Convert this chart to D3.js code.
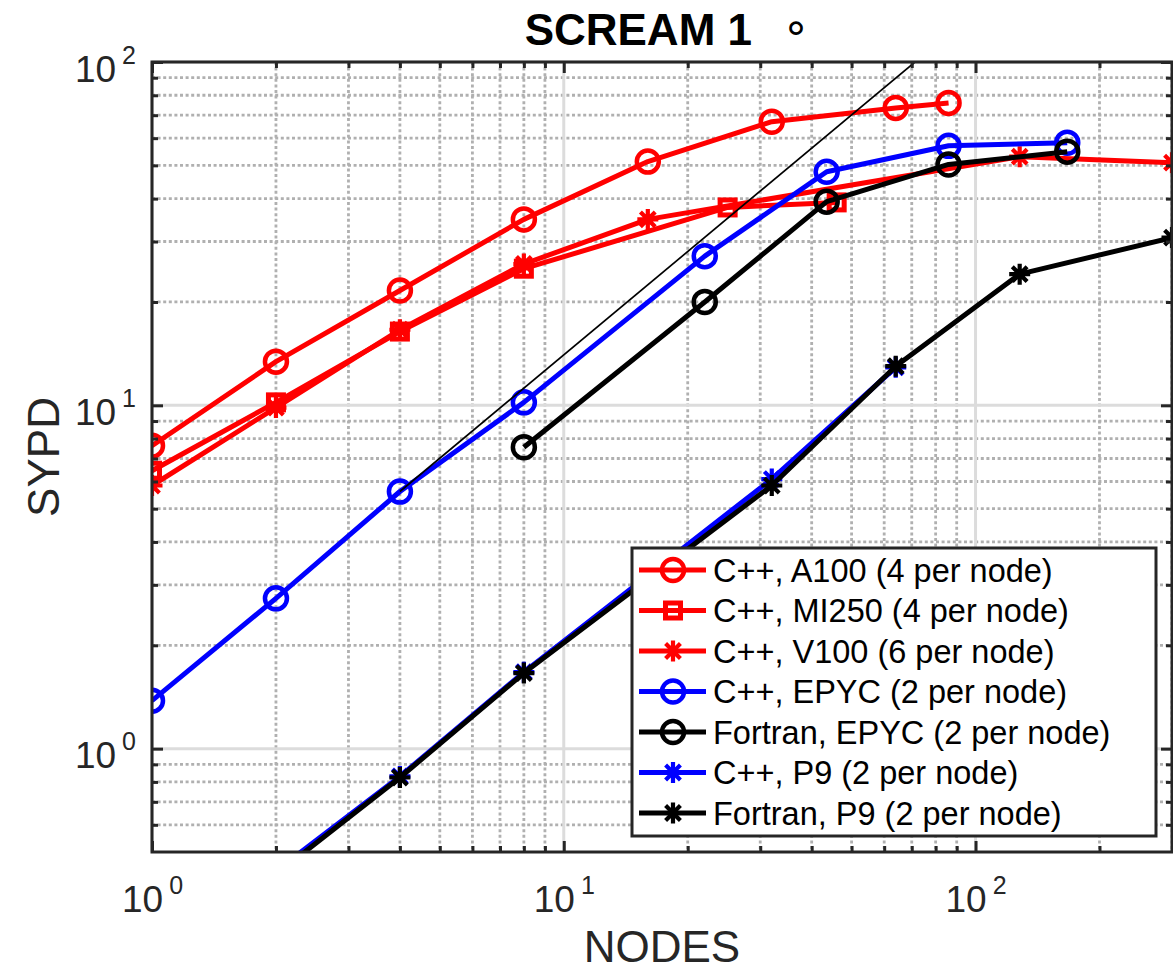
<!DOCTYPE html>
<html>
<head>
<meta charset="utf-8">
<script src="https://cdn.jsdelivr.net/npm/d3@7"></script>
<style>
  body { margin: 0; background: #fff; }
  svg { display: block; }
</style>
</head>
<body>
<svg id="chart" width="1173" height="970"></svg>
<script>
// Strong scaling of SCREAM 1°: simulated years per day vs. number of nodes

// C++, A100 (4 per node)
const nodesA100 = [1, 2, 4, 8, 16, 32, 64, 86];
const sypdA100  = [7.63, 13.4, 21.6, 34.8, 51.3, 67.0, 73.5, 76.0];

// C++, MI250 (4 per node)
const nodesMI250 = [1, 2, 4, 8, 25, 46];
const sypdMI250  = [6.45, 10.2, 16.4, 25.0, 37.7, 39.0];

// C++, V100 (6 per node)
const nodesV100 = [1, 2, 4, 8, 16, 128, 300];
const sypdV100  = [5.84, 9.85, 16.6, 25.8, 34.8, 53.0, 50.9];

// C++, EPYC (2 per node)
const nodesEpycCxx = [1, 2, 4, 8, 22, 43.5, 86, 167];
const sypdEpycCxx  = [1.38, 2.74, 5.61, 10.2, 27.2, 47.9, 57.0, 58.2];

// Fortran, EPYC (2 per node)
const nodesEpycF90 = [8, 22, 43.5, 86, 167];
const sypdEpycF90  = [7.55, 20.0, 39.2, 50.3, 54.8];

// C++, P9 (2 per node)
const nodesP9Cxx = [2, 4, 8, 32, 64];
const sypdP9Cxx  = [0.44, 0.83, 1.67, 6.1, 12.9];

// Fortran, P9 (2 per node)
const nodesP9F90 = [2, 4, 8, 32, 64, 128, 300];
const sypdP9F90  = [0.43, 0.824, 1.66, 5.84, 13.0, 24.1, 30.8];

// perfect-scaling reference from the 4-node EPYC run
const nodesIdeal = [4, 80];
const sypdIdeal  = [5.61, 112.2];

const seriesLabels = [
  "C++, A100 (4 per node)",
  "C++, MI250 (4 per node)",
  "C++, V100 (6 per node)",
  "C++, EPYC (2 per node)",
  "Fortran, EPYC (2 per node)",
  "C++, P9 (2 per node)",
  "Fortran, P9 (2 per node)"
];

// tick positions
const xMajorTicks = [1, 10, 100];
const xMinorTicks = [2, 3, 4, 5, 6, 7, 8, 9, 20, 30, 40, 50, 60, 70, 80, 90, 200, 300];
const yMajorTicks = [1, 10, 100];
const yMinorTicks = [0.6, 0.7, 0.8, 0.9, 2, 3, 4, 5, 6, 7, 8, 9, 20, 30, 40, 50, 60, 70, 80, 90];

// ---- layout ----
const W = 1173, H = 970;
const P = { left: 152, right: 1172, top: 62, bottom: 852 };
const AXIS = "#262626";
const FONT = "'Liberation Sans', Arial, Helvetica, sans-serif";
const LINE_W = 5;

const x = d3.scaleLog().domain([1, 300]).range([P.left, P.right]);
const y = d3.scaleLog().domain([0.5, 100]).range([P.bottom, P.top]);

const svg = d3.select("#chart");
svg.append("rect").attr("width", W).attr("height", H).attr("fill", "#fff");

svg.append("defs").append("clipPath").attr("id", "plotArea")
  .append("rect")
  .attr("x", P.left).attr("y", P.top)
  .attr("width", P.right - P.left).attr("height", P.bottom - P.top);

// ---- grid ----
const grid = svg.append("g");
const dotted = { stroke: "#b0b0b0", width: 2.8, dash: "3 2.6" };
grid.append("g").selectAll("line").data(xMinorTicks).join("line")
  .attr("x1", d => x(d)).attr("x2", d => x(d))
  .attr("y1", P.top).attr("y2", P.bottom)
  .attr("stroke", dotted.stroke).attr("stroke-width", dotted.width)
  .attr("stroke-dasharray", dotted.dash);
grid.append("g").selectAll("line").data(yMinorTicks).join("line")
  .attr("y1", d => y(d)).attr("y2", d => y(d))
  .attr("x1", P.left).attr("x2", P.right)
  .attr("stroke", dotted.stroke).attr("stroke-width", dotted.width)
  .attr("stroke-dasharray", dotted.dash);
grid.append("g").selectAll("line").data(xMajorTicks).join("line")
  .attr("x1", d => x(d)).attr("x2", d => x(d))
  .attr("y1", P.top).attr("y2", P.bottom)
  .attr("stroke", "#dcdcdc").attr("stroke-width", 3);
grid.append("g").selectAll("line").data(yMajorTicks).join("line")
  .attr("y1", d => y(d)).attr("y2", d => y(d))
  .attr("x1", P.left).attr("x2", P.right)
  .attr("stroke", "#dcdcdc").attr("stroke-width", 3);

// ---- markers ----
function drawMarker(g, type, color) {
  if (type === "circle") {
    g.append("circle").attr("r", 11)
      .attr("fill", "none").attr("stroke", color).attr("stroke-width", 4.5);
  } else if (type === "square") {
    g.append("rect").attr("x", -7.5).attr("y", -7.5).attr("width", 15).attr("height", 15)
      .attr("fill", "none").attr("stroke", color).attr("stroke-width", 5);
  } else {
    g.append("path")
      .attr("d", "M0,-10.5V10.5M-10.5,0H10.5M-7.4,-7.4L7.4,7.4M-7.4,7.4L7.4,-7.4")
      .attr("fill", "none").attr("stroke", color).attr("stroke-width", 4.2);
  }
}

const series = [
  { nodes: nodesA100,    sypd: sypdA100,    color: "#ff0000", marker: "circle" },
  { nodes: nodesMI250,   sypd: sypdMI250,   color: "#ff0000", marker: "square" },
  { nodes: nodesV100,    sypd: sypdV100,    color: "#ff0000", marker: "star" },
  { nodes: nodesEpycCxx, sypd: sypdEpycCxx, color: "#0000ff", marker: "circle" },
  { nodes: nodesEpycF90, sypd: sypdEpycF90, color: "#000000", marker: "circle" },
  { nodes: nodesP9Cxx,   sypd: sypdP9Cxx,   color: "#0000ff", marker: "star" },
  { nodes: nodesP9F90,   sypd: sypdP9F90,   color: "#000000", marker: "star" }
].map((s, i) => ({ ...s, label: seriesLabels[i],
  points: s.nodes.map((n, j) => [n, s.sypd[j]]) }));

const line = d3.line().x(d => x(d[0])).y(d => y(d[1]));
const plot = svg.append("g").attr("clip-path", "url(#plotArea)");

series.forEach(s => {
  const g = plot.append("g");
  g.append("path").datum(s.points).attr("d", line)
    .attr("fill", "none").attr("stroke", s.color).attr("stroke-width", LINE_W)
    .attr("stroke-linejoin", "round");
  g.selectAll("g.m").data(s.points).join("g")
    .attr("transform", d => `translate(${x(d[0])},${y(d[1])})`)
    .each(function () { drawMarker(d3.select(this), s.marker, s.color); });
});

// thin ideal-scaling line
plot.append("path")
  .datum(nodesIdeal.map((n, i) => [n, sypdIdeal[i]]))
  .attr("d", line)
  .attr("fill", "none").attr("stroke", "#000").attr("stroke-width", 1.7);

// ---- axes (ticks point inward on all four sides) ----
function tidy(g) {
  g.select(".domain").remove();
  g.selectAll(".tick line").attr("stroke", AXIS).attr("stroke-width", 3);
}
function supLabels(g, xPos, yPos) {
  g.selectAll(".tick text").each(function (d) {
    const t = d3.select(this);
    t.text(null).attr("dy", null).attr("x", xPos).attr("y", yPos)
      .attr("fill", AXIS).attr("font-family", FONT).attr("font-size", 37);
    t.append("tspan").text("10");
    t.append("tspan").attr("dx", 6).attr("dy", -18).attr("font-size", 25)
      .text(Math.round(Math.log10(d)));
  });
}

const gxB = svg.append("g").attr("transform", `translate(0,${P.bottom})`)
  .call(d3.axisBottom(x).tickValues(xMajorTicks).tickSizeInner(-11).tickSizeOuter(0)
    .tickFormat(d => String(d)));
tidy(gxB); supLabels(gxB, 0, 60);
svg.append("g").attr("transform", `translate(0,${P.bottom})`)
  .call(d3.axisBottom(x).tickValues(xMinorTicks).tickSizeInner(-6).tickSizeOuter(0).tickFormat(""))
  .call(tidy);
svg.append("g").attr("transform", `translate(0,${P.top})`)
  .call(d3.axisTop(x).tickValues(xMajorTicks).tickSizeInner(-11).tickSizeOuter(0).tickFormat(""))
  .call(tidy);
svg.append("g").attr("transform", `translate(0,${P.top})`)
  .call(d3.axisTop(x).tickValues(xMinorTicks).tickSizeInner(-6).tickSizeOuter(0).tickFormat(""))
  .call(tidy);

const gyL = svg.append("g").attr("transform", `translate(${P.left},0)`)
  .call(d3.axisLeft(y).tickValues(yMajorTicks).tickSizeInner(-11).tickSizeOuter(0)
    .tickFormat(d => String(d)));
tidy(gyL); supLabels(gyL, -16, 19);
svg.append("g").attr("transform", `translate(${P.left},0)`)
  .call(d3.axisLeft(y).tickValues(yMinorTicks).tickSizeInner(-6).tickSizeOuter(0).tickFormat(""))
  .call(tidy);
svg.append("g").attr("transform", `translate(${P.right},0)`)
  .call(d3.axisRight(y).tickValues(yMajorTicks).tickSizeInner(-11).tickSizeOuter(0).tickFormat(""))
  .call(tidy);
svg.append("g").attr("transform", `translate(${P.right},0)`)
  .call(d3.axisRight(y).tickValues(yMinorTicks).tickSizeInner(-6).tickSizeOuter(0).tickFormat(""))
  .call(tidy);

// axes box
svg.append("rect")
  .attr("x", P.left).attr("y", P.top)
  .attr("width", P.right - P.left).attr("height", P.bottom - P.top)
  .attr("fill", "none").attr("stroke", AXIS).attr("stroke-width", 3);

// ---- titles ----
svg.append("text").attr("x", 752).attr("y", 45).attr("text-anchor", "end")
  .attr("font-family", FONT).attr("font-weight", "bold").attr("font-size", 44)
  .attr("fill", "#000").text("SCREAM 1");
svg.append("text").attr("x", 796).attr("y", 42).attr("text-anchor", "middle")
  .attr("font-family", "'DejaVu Sans', sans-serif").attr("font-size", 44)
  .attr("fill", "#000").text("∘");

svg.append("text")
  .attr("transform", `translate(59,${(P.top + P.bottom) / 2}) rotate(-90)`)
  .attr("text-anchor", "middle").attr("font-family", FONT).attr("font-size", 44)
  .attr("fill", AXIS).text("SYPD");
svg.append("text")
  .attr("x", (P.left + P.right) / 2).attr("y", 962)
  .attr("text-anchor", "middle").attr("font-family", FONT).attr("font-size", 44)
  .attr("fill", AXIS).text("NODES");

// ---- legend ----
const leg = svg.append("g");
leg.append("rect").attr("x", 632).attr("y", 548).attr("width", 524).attr("height", 288)
  .attr("fill", "#fff").attr("stroke", AXIS).attr("stroke-width", 3);
series.forEach((s, i) => {
  const cy = 570 + i * 40.5;
  const row = leg.append("g");
  row.append("line").attr("x1", 639).attr("x2", 706).attr("y1", cy).attr("y2", cy)
    .attr("stroke", s.color).attr("stroke-width", LINE_W);
  drawMarker(row.append("g").attr("transform", `translate(673,${cy})`), s.marker, s.color);
  row.append("text").attr("x", 713).attr("y", cy + 11.5)
    .attr("font-family", FONT).attr("font-size", 32.5).attr("fill", "#000")
    .text(s.label);
});
</script>
</body>
</html>
